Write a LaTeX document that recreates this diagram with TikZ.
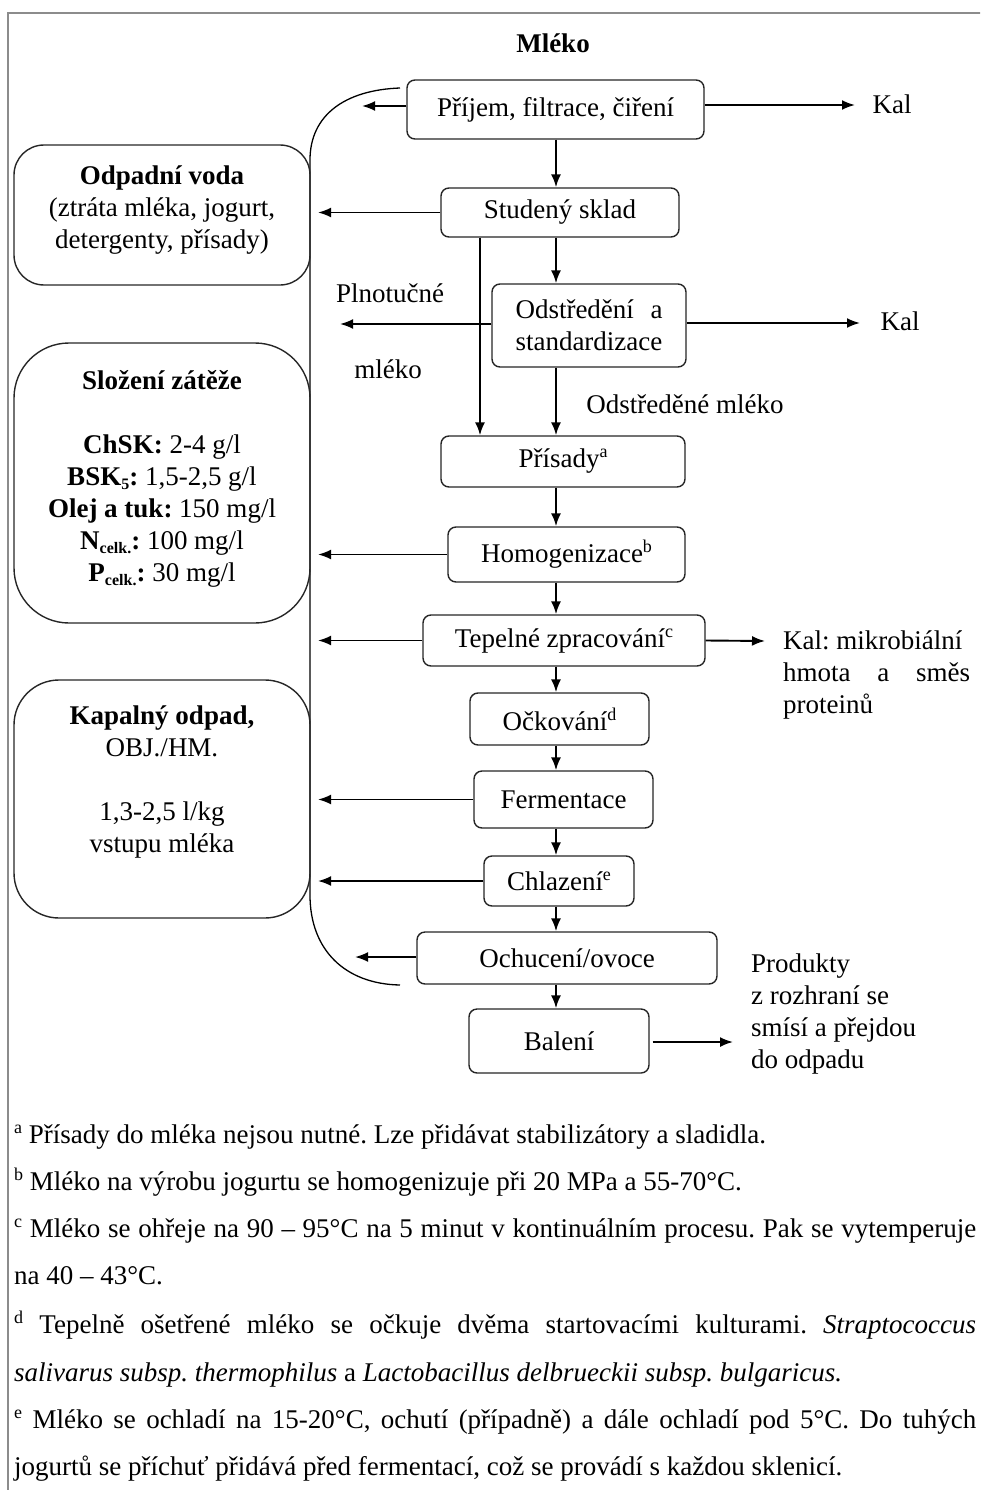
\documentclass[tikz,border=0pt]{standalone}
\usepackage{fontspec}
\setmainfont{Liberation Serif}
\usetikzlibrary{arrows.meta}
\frenchspacing

% small raised and lowered indices
\newcommand{\upidx}[1]{\raisebox{10pt}{\fontsize{18}{18}\selectfont #1}}
\newcommand{\lowidx}[1]{\raisebox{-4pt}{\fontsize{16}{16}\selectfont #1}}

\begin{document}
\begin{tikzpicture}[x=1pt,y=-1pt,
  every node/.style={font=\fontsize{27}{32}\selectfont, inner sep=0pt},
  stepbox/.style={draw=black!85, line width=1.4pt, rounded corners=8pt, fill=white},
  sidebox/.style={draw=black!85, line width=1.4pt, minimum width=296pt},
  arr/.style={draw=black, line width=1.9pt, -{Latex[length=13pt,width=10pt]}},
  bracketline/.style={draw=black, line width=1.3pt},
  fn/.style={anchor=base west},
  lbl/.style={anchor=north west, align=left}]

\useasboundingbox (0,0) rectangle (980,1490);
\clip (0,0) rectangle (980,1490);

% outer frame
\draw[black!45, line width=1.6pt] (8,1495) -- (8,13) -- (990,13);

% title
\node[font=\fontsize{27}{32}\selectfont\bfseries] (milk) at (553,43) {Mléko};

% bracket that collects the side streams
\coordinate (brtop) at (400,88);
\coordinate (brbot) at (400,985);
\draw[bracketline] (brtop) .. controls (345,90) and (310,115) .. (310,160)
  -- (310,895) .. controls (310,950) and (345,984) .. (brbot);

% left information boxes
\node[sidebox, rounded corners=30pt, minimum height=140pt] (ow) at (162,215) {};
\node[align=center] (owtext) at (162,210)
  {\textbf{Odpadní voda}\\(ztráta mléka, jogurt,\\detergenty, přísady)};

\node[sidebox, rounded corners=55pt, minimum height=280pt] (sz) at (162,483) {};
\node[align=center] (sztext) at (162,479)
  {\textbf{Složení zátěže}\\[32pt]
   \textbf{ChSK:} 2-4 g/l\\
   \textbf{BSK\lowidx{5}:} 1,5-2,5 g/l\\
   \textbf{Olej a tuk:} 150 mg/l\\
   \textbf{N\lowidx{celk.}:} 100 mg/l\\
   \textbf{P\lowidx{celk.}:} 30 mg/l};

\node[sidebox, rounded corners=45pt, minimum height=238pt] (ko) at (162,799) {};
\node[align=center] (kotext) at (162,782)
  {\textbf{Kapalný odpad,}\\OBJ./HM.\\[32pt]1,3-2,5 l/kg\\vstupu mléka};

% process steps
\node[stepbox, minimum width=297pt, minimum height=59pt] (prijem) at (555.5,109.5) {Příjem, filtrace, čiření};
\node[stepbox, minimum width=238pt, minimum height=49pt] (stud) at (560,212.5) {Studený sklad};
\node[stepbox, minimum width=194pt, minimum height=83pt, align=left] (odst) at (589,325.5)
  {\makebox[147pt][s]{Odstředění a}\\standardizace};
\node[stepbox, minimum width=244pt, minimum height=51pt] (pris) at (563,461.5) {Přísady\upidx{a}};
\node[stepbox, minimum width=237pt, minimum height=55pt] (homo) at (566.5,554.5) {Homogenizace\upidx{b}};
\node[stepbox, minimum width=282pt, minimum height=51pt] (tep) at (564,640.5) {Tepelné zpracování\upidx{c}};
\node[stepbox, minimum width=179pt, minimum height=52pt] (ockov) at (559.5,719) {Očkování\upidx{d}};
\node[stepbox, minimum width=179pt, minimum height=57pt] (ferm) at (563.5,799.5) {Fermentace};
\node[stepbox, minimum width=150pt, minimum height=50pt] (chlaz) at (559,881) {Chlazení\upidx{e}};
\node[stepbox, minimum width=300pt, minimum height=52pt] (ochu) at (567,958) {Ochucení/ovoce};
\node[stepbox, minimum width=180pt, minimum height=64pt] (bal) at (559,1041) {Balení};

% reference columns for the connectors
\coordinate (cx) at (556,0);
\coordinate (sx) at (480,0);
\coordinate (lx) at (318,0);

% main line
\draw[arr] (prijem.south -| cx) -- (stud.north -| cx);
\draw[arr] (stud.south -| cx) -- (odst.north -| cx);
\draw[arr] (odst.south -| cx) -- (pris.north -| cx);
\draw[arr] (stud.south -| sx) -- (pris.north -| sx);
\draw[arr] (pris.south -| cx) -- (homo.north -| cx);
\draw[arr] (homo.south -| cx) -- (tep.north -| cx);
\draw[arr] (tep.south -| cx) -- (ockov.north -| cx);
\draw[arr] (ockov.south -| cx) -- (ferm.north -| cx);
\draw[arr] (ferm.south -| cx) -- (chlaz.north -| cx);
\draw[arr] (chlaz.south -| cx) -- (ochu.north -| cx);
\draw[arr] (ochu.south -| cx) -- (bal.north -| cx);

% side streams to the left
\coordinate (pl) at (362,106);
\coordinate (ol) at (355,957);
\coordinate (fl) at (340,324);
\draw[arr] (prijem.west |- pl) -- (pl);
\draw[arr] (stud.west) -- (stud.west -| lx);
\draw[arr] (odst.west |- fl) -- (fl);
\draw[arr] (homo.west) -- (homo.west -| lx);
\draw[arr] (tep.west) -- (tep.west -| lx);
\draw[arr] (ferm.west) -- (ferm.west -| lx);
\draw[arr] (chlaz.west) -- (chlaz.west -| lx);
\draw[arr] (ochu.west |- ol) -- (ol);

% outputs to the right
\coordinate (kal1) at (855,105);
\coordinate (kal2) at (860,323);
\coordinate (kal3) at (765,641);
\coordinate (prod) at (733,1042);
\draw[arr] (prijem.east |- kal1) -- (kal1);
\draw[arr] (odst.east |- kal2) -- (kal2);
\draw[arr] (tep.east) -- (kal3);
\draw[arr] ([xshift=3pt]bal.east |- prod) -- (prod);

% labels
\node (kaltext1) at (892,104) {Kal};
\node (kaltext2) at (900,321) {Kal};
\node (plnot) at (390,293) {Plnotučné};
\node (plmleko) at (388,369) {mléko};
\node (odstml) at (685,404) {Odstředěné mléko};
\node[lbl] (kal3text) at (783,631)
  {Kal: mikrobiální\\\makebox[187pt][s]{hmota a směs}\\proteinů};
\node[lbl] (prodtext) at (751,954)
  {Produkty\\z rozhraní se\\smísí a přejdou\\do odpadu};

% footnotes
\node[fn] (fa) at (14,1143) {\upidx{a} Přísady do mléka nejsou nutné. Lze přidávat stabilizátory a sladidla.};
\node[fn] (fb) at (14,1190) {\upidx{b} Mléko na výrobu jogurtu se homogenizuje při 20 MPa a 55-70°C.};
\node[fn] (fc) at (14,1237) {\makebox[962pt][s]{\upidx{c} Mléko se ohřeje na 90 – 95°C na 5 minut v kontinuálním procesu. Pak se vytemperuje}};
\node[fn] (fc2) at (14,1284) {na 40 – 43°C.};
\node[fn] (fd) at (14,1333) {\makebox[962pt][s]{\upidx{d} Tepelně ošetřené mléko se očkuje dvěma startovacími kulturami. \textit{Straptococcus}}};
\node[fn] (fd2) at (14,1381) {\textit{salivarus subsp. thermophilus} a \textit{Lactobacillus delbrueckii subsp. bulgaricus.}};
\node[fn] (fe) at (14,1428) {\makebox[962pt][s]{\upidx{e} Mléko se ochladí na 15-20°C, ochutí (případně) a dále ochladí pod 5°C. Do tuhých}};
\node[fn] (fe2) at (14,1475) {jogurtů se příchuť přidává před fermentací, což se provádí s každou sklenicí.};

\end{tikzpicture}
\end{document}
